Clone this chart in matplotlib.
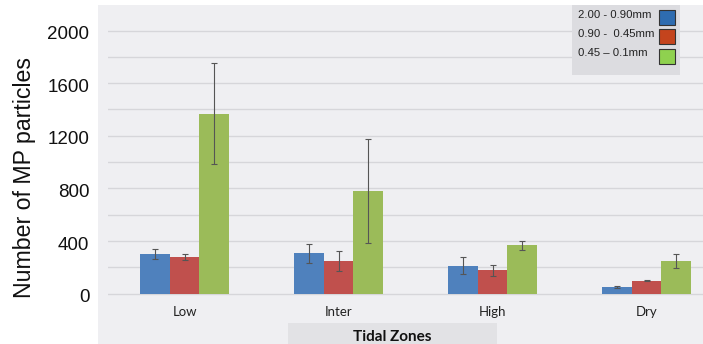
import matplotlib
matplotlib.use("Agg")
import matplotlib.pyplot as plt
import numpy as np
from matplotlib.patches import Rectangle

zones = ["Low", "Inter", "High", "Dry"]
series = ["2.00 - 0.90mm", "0.90 -  0.45mm", "0.45 \u2013 0.1mm"]
vals_large = [300, 309, 213, 51]
vals_mid = [281, 246, 178, 99]
vals_small = [1368, 783, 368, 246]
err_large = [38, 72, 63, 10]
err_mid = [23, 77, 43, 6]
err_small = [385, 395, 35, 53]
yticks = [0, 400, 800, 1200, 1600, 2000]

bar_colors = ["#4f81bd", "#c0504d", "#9bbb59"]
leg_colors = ["#2e6cb0", "#c4441d", "#8fd14f"]

W, H = 703, 344
fig = plt.figure(figsize=(W / 100, H / 100), dpi=100)
fig.patch.set_facecolor("white")

# chart area background
fig.patches.append(Rectangle((98 / W, 0), 1 - 98 / W, 1 - 5 / H, transform=fig.transFigure,
                             facecolor="#efeff2", edgecolor="none", zorder=0))
# Tidal zones box
fig.patches.append(Rectangle((288 / W, 0), (497 - 288) / W, (344 - 323) / H, transform=fig.transFigure,
                             facecolor="#e2e2e5", edgecolor="none", zorder=0.5))

base_px = 293.7
px_per_unit = 0.1316
top_px = 5
ymax = (base_px - top_px) / px_per_unit
ymin = -(H - base_px) / px_per_unit

ax = fig.add_axes([107.5 / W, 0, 1 - 107.5 / W, 1 - top_px / H])
ax.set_zorder(1)
ax.set_facecolor("none")
group_w = 154.0
xmax = (703 - 107.5) / group_w - 0.5
ax.set_xlim(-0.5, xmax)
ax.set_ylim(ymin, ymax)

for g in range(0, 2001, 200):
    ax.plot([-0.5, xmax], [g, g], color="#d6d6da", lw=1.0, zorder=1)

x = np.arange(len(zones))
bw = 29.7 / group_w
data = [vals_large, vals_mid, vals_small]
errs = [err_large, err_mid, err_small]
for i in range(3):
    pos = x + (i - 1) * bw
    ax.bar(pos, data[i], width=bw, color=bar_colors[i], zorder=2)
    ax.errorbar(pos, data[i], yerr=errs[i], fmt="none", ecolor="#555555",
                elinewidth=0.8, capsize=2.5, capthick=0.8, zorder=3)

for s in ax.spines.values():
    s.set_visible(False)
ax.set_xticks([])
ax.set_yticks([])

# y tick labels
for t in yticks:
    ax.text(-0.5 - 18 / group_w, t - 30, str(t), ha="right", va="center",
            fontsize=13.5, family="Liberation Sans", color="#111111", clip_on=False)

# category labels
for xi, z in zip(x, zones):
    ax.text(xi, (base_px - 311.5) / px_per_unit, z, ha="center", va="center",
            fontsize=9.5, family="Lato", color="#222222")

ax.text((392.5 - 107.5) / group_w - 0.5, (base_px - 337) / px_per_unit,
        "Tidal Zones", ha="center", va="center",
        fontsize=11, family="Lato", fontweight="bold", color="#111111")

fig.text(25 / W, 1 - 178 / H, "Number of MP particles", rotation=90, ha="center", va="center",
         fontsize=16.7, family="Liberation Sans", color="#111111")

# legend (drawn inside the axes so it sits above the grid)
ax.add_patch(Rectangle((572 / W, 1 - 75 / H), 108 / W, 70 / H, transform=fig.transFigure,
                       facecolor="#dcdce0", edgecolor="none", zorder=10, clip_on=False))
rows = [15.5, 34, 52.5]
sw = [17, 36.5, 56]
for i in range(3):
    ax.text(578 / W, 1 - rows[i] / H, series[i], ha="left", va="center", transform=fig.transFigure,
            fontsize=8.2, family="Liberation Sans", color="#222222", zorder=11)
    ax.add_patch(Rectangle((659 / W, 1 - (sw[i] + 7.5) / H), 16 / W, 15 / H,
                           transform=fig.transFigure, facecolor=leg_colors[i],
                           edgecolor="#333333", lw=0.8, zorder=11, clip_on=False))

fig.savefig("out.png", dpi=100)
